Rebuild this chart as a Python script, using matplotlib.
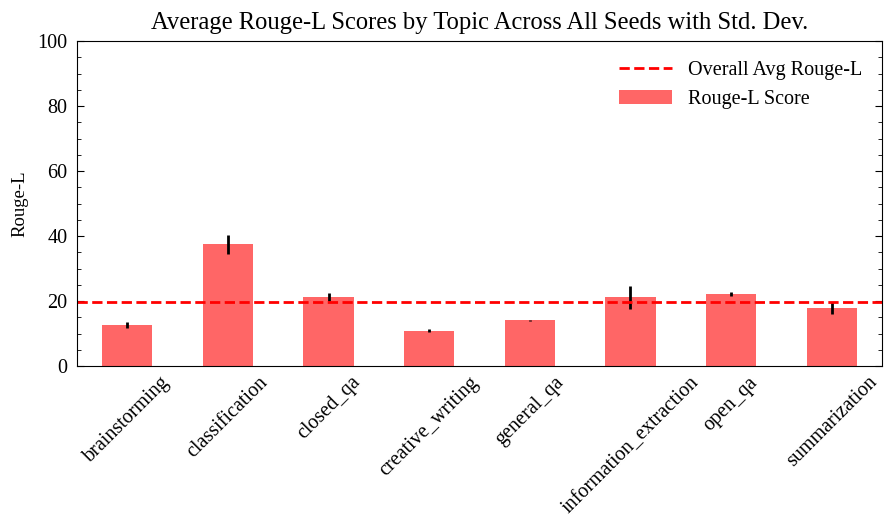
import matplotlib
matplotlib.use("Agg")
import matplotlib.pyplot as plt
from matplotlib.ticker import MultipleLocator

topics = ["brainstorming", "classification", "closed_qa", "creative_writing",
          "general_qa", "information_extraction", "open_qa", "summarization"]
rouge_l = [12.7, 37.4, 21.2, 10.9, 14.1, 21.1, 22.1, 17.9]
rouge_std = [0.9, 2.9, 1.2, 0.5, 0.2, 3.5, 0.6, 1.9]
overall_avg = 19.8


def plot_graph():
	plt.rcParams['font.family'] = ['Liberation Serif', 'DejaVu Serif']

	fig = plt.figure(figsize=(8.92, 5.28), dpi=100)
	ax = fig.add_axes([0.0863, 0.3068, 0.9025, 0.6155])

	x = list(range(len(topics)))
	ax.bar(x, rouge_l, width=0.5, color='red', alpha=0.6, label="Rouge-L Score",
		yerr=rouge_std, error_kw=dict(ecolor='black', elinewidth=2, capsize=0))
	ax.axhline(overall_avg, color='red', linestyle='--', linewidth=2,
		label="Overall Avg Rouge-L")

	ax.set_xlim(-0.5, len(topics) - 0.5)
	ax.set_ylim(0, 100)
	ax.set_xticks(x)
	ax.set_xticklabels(topics, rotation=45, fontsize=14.5)
	ax.tick_params(axis='x', length=0, pad=5)
	ax.yaxis.set_major_locator(MultipleLocator(20))
	ax.yaxis.set_minor_locator(MultipleLocator(5))
	ax.tick_params(axis='y', which='both', direction='in', right=True, labelsize=14.5, pad=7)
	ax.tick_params(axis='y', which='major', length=5)
	ax.tick_params(axis='y', which='minor', length=3)

	ax.set_ylabel('Rouge-L', fontsize=13.5, labelpad=6)
	ax.set_title('Average Rouge-L Scores by Topic Across All Seeds with Std. Dev.', fontsize=17.7, pad=9)
	ax.legend(loc="upper right", frameon=False, fontsize=14.5, handlelength=2.6,
		borderaxespad=0.6)
	plt.savefig('out.png', dpi=100)


if __name__ == "__main__":
	plot_graph()
